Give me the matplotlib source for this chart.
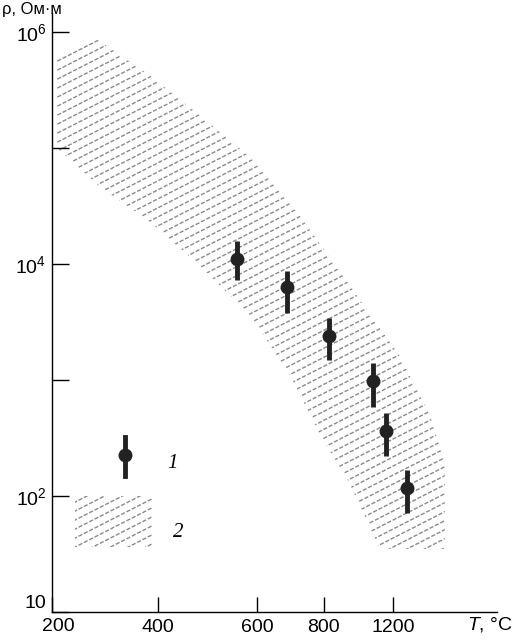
import numpy as np
import matplotlib
matplotlib.use("Agg")
import matplotlib.pyplot as plt
from matplotlib.patches import Rectangle
from matplotlib.transforms import offset_copy

plt.rcParams['font.family'] = ['Liberation Sans', 'DejaVu Sans']
plt.rcParams['mathtext.fontset'] = 'custom'
plt.rcParams['mathtext.rm'] = 'Liberation Sans'
plt.rcParams['mathtext.it'] = 'Liberation Sans:italic'

# measured points (1): temperature, resistivity and its spread
T_pts = [560, 690, 830, 1085, 1160, 1280]
rho_mid = [1.1e4, 6.3e3, 2.4e3, 980, 360, 117]
rho_lo = [7.2e3, 3.8e3, 1.48e3, 590, 220, 72]
rho_hi = [1.57e4, 8.7e3, 3.4e3, 1.4e3, 515, 167]

# scatter band (2): upper and lower borders
band_T_up = [209, 281, 385, 485, 586, 728, 951, 1241, 1414, 1500, 1500]
band_up = [6.0e5, 8.9e5, 4.2e5, 1.9e5, 8.3e4, 2.6e4, 6.5e3, 1.6e3, 500, 190, 35]
band_T_low = [209, 291, 385, 485, 586, 699, 788, 951, 1125]
band_low = [1.0e5, 4.6e4, 2.3e4, 9.6e3, 3.6e3, 1.1e3, 340, 127, 35]

# the temperature axis of the original is not uniform
x_ticks = [200, 400, 600, 800, 1200]
x_ticklabels = ['', '400', '600', '800', '1200']
scale_T = [200, 400, 600, 800, 1200, 1800]
scale_pos = [0.0, 0.238, 0.461, 0.611, 0.766, 1.0]

y_ticks = [10, 1e2, 1e3, 1e4, 1e5, 1e6]
y_ticklabels = ['', r'$\mathregular{10^2}$', '', r'$\mathregular{10^4}$', '', r'$\mathregular{10^6}$']


def fwd(t):
    return np.interp(t, scale_T, scale_pos)


def inv(p):
    return np.interp(p, scale_pos, scale_T)


def add_hatch(ax, patch, step_px=9, angle=27):
    fig = ax.figure
    pos = ax.get_position()
    W = fig.get_figwidth() * fig.dpi * pos.width
    H = fig.get_figheight() * fig.dpi * pos.height
    slope = np.tan(np.radians(angle)) * W / H
    for c in np.arange(-2, 1.2, step_px / H):
        ln, = ax.plot([0, 1], [c, c + slope], transform=ax.transAxes,
                      color='#8a8a8a', lw=1.0, dashes=(3, 1.3), zorder=1)
        ln.set_clip_path(patch)


fig = plt.figure(figsize=(5.24, 6.44), dpi=100)
ax = fig.add_axes([0.0992, 0.0497, 0.849, 0.930])

ax.set_xscale('function', functions=(fwd, inv))
ax.set_yscale('log')
ax.set_xlim(200, 1800)
ax.set_ylim(10, 1.45e6)

# band
poly_T = band_T_up + band_T_low[::-1]
poly_rho = band_up + band_low[::-1]
band = ax.fill(poly_T, poly_rho, facecolor='none', edgecolor='none')[0]
add_hatch(ax, band)

# points with spread
rho_mid_a = np.array(rho_mid)
yerr = [rho_mid_a - np.array(rho_lo), np.array(rho_hi) - rho_mid_a]
ax.errorbar(T_pts, rho_mid, yerr=yerr, fmt='o', color='#222222', ms=9,
            elinewidth=3.5, capsize=0, zorder=3)

# legend drawn by hand
lx, ly = 0.164, 0.262
ax.plot([lx, lx], [ly - 0.035, ly + 0.03], transform=ax.transAxes,
        color='#222222', lw=3.5, zorder=3)
ax.plot([lx], [ly], 'o', transform=ax.transAxes, color='#222222', ms=9, zorder=3)
ax.text(0.272, 0.248, '1', transform=ax.transAxes, fontsize=15,
        family='Liberation Serif', style='italic', va='center', ha='center')
rect = Rectangle((0.052, 0.108), 0.175, 0.085, transform=ax.transAxes,
                 facecolor='none', edgecolor='none')
ax.add_patch(rect)
add_hatch(ax, rect)
ax.text(0.283, 0.133, '2', transform=ax.transAxes, fontsize=15,
        family='Liberation Serif', style='italic', va='center', ha='center')

# axes styling
for s in ['top', 'right']:
    ax.spines[s].set_visible(False)
for s in ['left', 'bottom']:
    ax.spines[s].set_linewidth(1.0)

ax.set_xticks(x_ticks)
ax.set_xticklabels(x_ticklabels)
ax.xaxis.set_minor_locator(matplotlib.ticker.NullLocator())
ax.set_yticks(y_ticks)
ax.set_yticklabels(y_ticklabels)
ax.yaxis.set_minor_locator(matplotlib.ticker.NullLocator())
ax.tick_params(axis='x', direction='in', length=11, width=1.0, labelsize=14, pad=5)
ax.tick_params(axis='y', direction='in', length=12, width=1.0, labelsize=14, pad=4)

# corner labels shifted apart, as in the original
ax.text(200, 0, '200', fontsize=14, ha='center', va='top',
        transform=offset_copy(ax.get_xaxis_transform(), fig=fig, x=6, y=-6, units='dots'))
ax.text(0, 10, '10', fontsize=14, ha='right', va='center',
        transform=offset_copy(ax.get_yaxis_transform(), fig=fig, x=-6, y=8, units='dots'))

fig.text(0.935, 0.030, r'$\mathit{T}$, °C', fontsize=14, ha='center', va='center')
fig.text(0.003, 0.997, 'ρ, Ом·м', fontsize=12, ha='left', va='top')

fig.savefig('out.png', dpi=100)
